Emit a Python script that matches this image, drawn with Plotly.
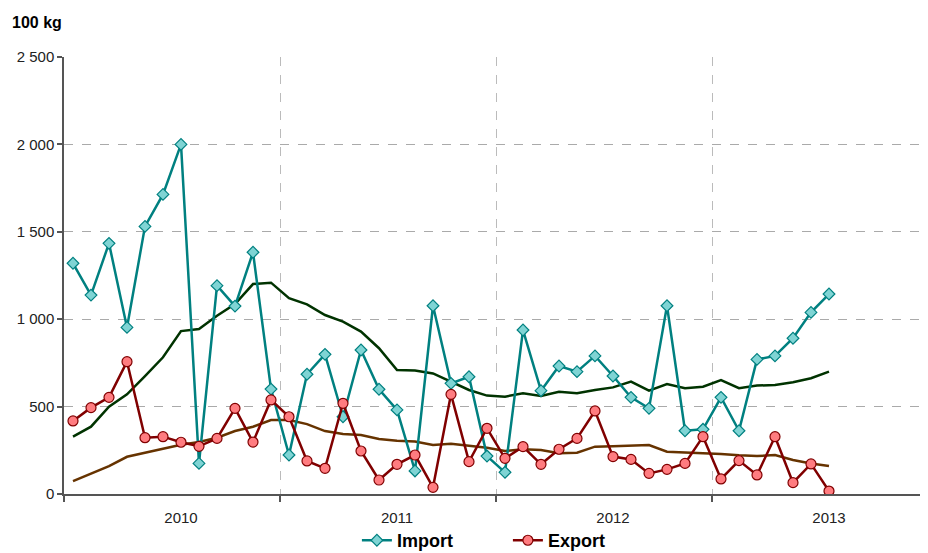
import plotly.graph_objects as go

# Monthly index: 0 = Jan 2010 ... 42 = Jul 2013
months = list(range(43))

import_vals = [1320, 1138, 1434, 953, 1531, 1714, 2000, 175, 1192, 1075, 1383, 600,
               223, 685, 799, 442, 824, 599, 481, 132, 1077, 633, 671, 217,
               124, 938, 591, 732, 700, 790, 675, 553, 490, 1077, 362, 370,
               553, 362, 770, 790, 891, 1039, 1144]

export_vals = [418, 494, 553, 757, 322, 328, 296, 273, 318, 490, 297, 538,
               442, 189, 147, 519, 246, 80, 170, 223, 38, 570, 185, 376,
               204, 271, 170, 256, 318, 475, 214, 198, 118, 141, 175, 328,
               86, 191, 109, 328, 65, 172, 17]

import_trend = [328, 385, 500, 570, 675, 782, 932, 944, 1020, 1087, 1201, 1209,
                1120, 1085, 1024, 986, 929, 834, 709, 706, 690, 643, 595, 563,
                557, 576, 561, 585, 576, 595, 610, 643, 591, 629, 605, 614,
                652, 605, 620, 624, 639, 662, 700]

export_trend = [74, 116, 160, 213, 236, 257, 282, 297, 322, 360, 385, 423,
                423, 400, 360, 343, 338, 315, 305, 300, 280, 288, 277, 265,
                246, 256, 252, 233, 236, 271, 273, 275, 280, 242, 238, 233,
                229, 221, 217, 223, 195, 175, 160]

year_labels = ["2010", "2011", "2012", "2013"]
year_label_pos = [6, 18, 30, 42]
year_bounds = [-0.5, 11.5, 23.5, 35.5]

y_ticks = [0, 500, 1000, 1500, 2000, 2500]
y_ticktext = ["0", "500", "1 000", "1 500", "2 000", "2 500"]

fig = go.Figure()

fig.add_trace(go.Scatter(
    x=months, y=import_trend, mode="lines",
    line=dict(color="#003300", width=2.5), showlegend=False, hoverinfo="skip"))
fig.add_trace(go.Scatter(
    x=months, y=export_trend, mode="lines",
    line=dict(color="#663300", width=2.5), showlegend=False, hoverinfo="skip"))

fig.add_trace(go.Scatter(
    x=months, y=import_vals, mode="lines+markers", name="<b>Import</b>",
    line=dict(color="#008080", width=2.5),
    marker=dict(symbol="diamond", size=9, color="#7FD4D4",
                line=dict(color="#008080", width=1.2))))
fig.add_trace(go.Scatter(
    x=months, y=export_vals, mode="lines+markers", name="<b>Export</b>",
    line=dict(color="#800000", width=2.5),
    marker=dict(symbol="circle", size=10, color="#FF7C80",
                line=dict(color="#800000", width=1.2))))

font_family = "Liberation Sans, Arial, sans-serif"

fig.update_layout(
    width=920, height=545,
    margin=dict(l=56, r=0, t=49, b=59, autoexpand=False),
    paper_bgcolor="white", plot_bgcolor="white",
    font=dict(family=font_family, size=15, color="#222222"),
    showlegend=True,
    legend=dict(orientation="h", xanchor="left", yanchor="middle",
                x=0.339, y=-0.1065,
                font=dict(size=18, color="black", family=font_family),
                itemwidth=30, tracegroupgap=0, entrywidthmode="pixels",
                entrywidth=106, bgcolor="rgba(0,0,0,0)"),
    xaxis=dict(
        range=[-0.5, 47.5],
        tickmode="array", tickvals=year_label_pos, ticktext=year_labels,
        ticks="outside", ticklen=9, tickcolor="rgba(0,0,0,0)",
        showgrid=False, zeroline=False,
        showline=True, linecolor="#555555", linewidth=1.5,
        tickfont=dict(size=15, color="#222222"),
        minor=dict(tickmode="array", tickvals=year_bounds, ticks="outside",
                   ticklen=6, tickcolor="#555555", tickwidth=1.5,
                   showgrid=True, gridcolor="#BBBBBB", griddash="dash",
                   gridwidth=1),
    ),
    yaxis=dict(
        range=[0, 2500],
        tickmode="array", tickvals=y_ticks, ticktext=y_ticktext,
        ticks="outside", ticklen=5, tickcolor="#555555", tickwidth=1.5,
        showgrid=True, gridcolor="#AAAAAA", griddash="dash", gridwidth=1,
        zeroline=False, showline=True, linecolor="#555555", linewidth=1.5,
        tickfont=dict(size=15, color="#222222"),
    ),
    annotations=[dict(text="<b>100 kg</b>", xref="paper", yref="paper",
                      x=-0.0625, y=1.079, xanchor="left", yanchor="middle",
                      showarrow=False, font=dict(size=16, color="black"))],
)

fig.write_html("out.html")
